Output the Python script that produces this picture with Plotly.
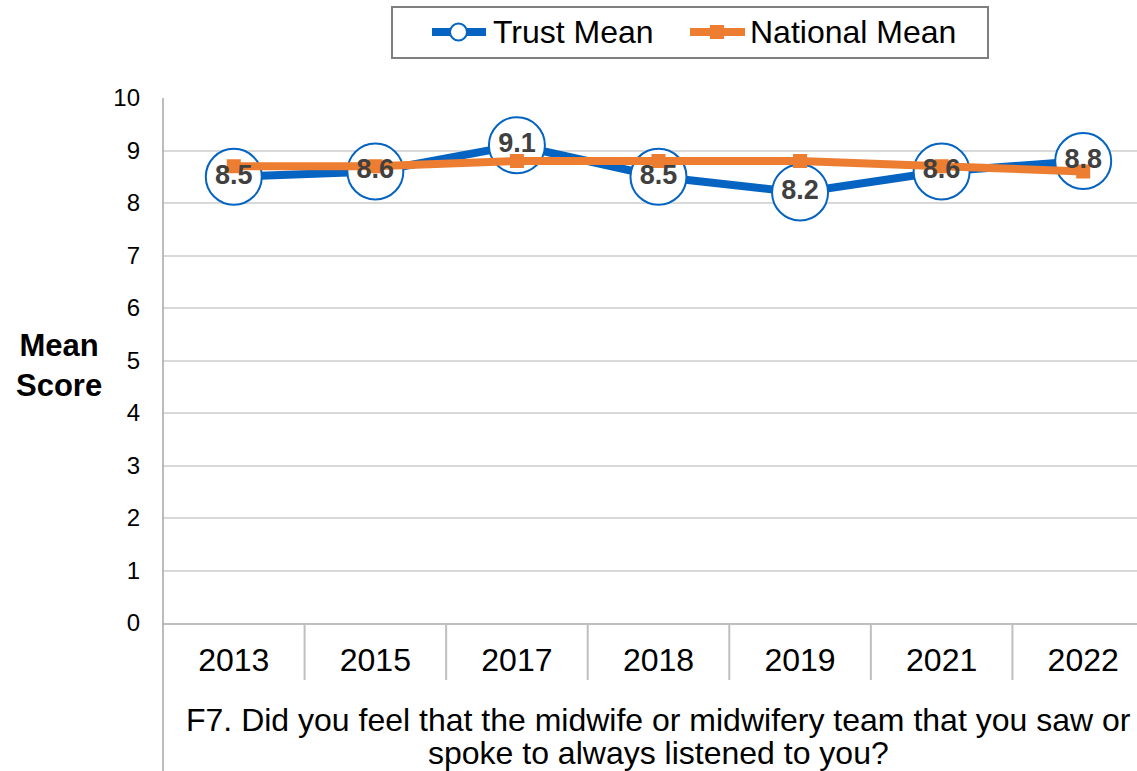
import plotly.graph_objects as go

years = ["2013", "2015", "2017", "2018", "2019", "2021", "2022"]
trust_mean = [8.5, 8.6, 9.1, 8.5, 8.2, 8.6, 8.8]
national_mean = [8.7, 8.7, 8.8, 8.8, 8.8, 8.7, 8.6]
y_ticks = list(range(0, 11))
series_names = ["Trust Mean", "National Mean"]
question_lines = [
    "F7. Did you feel that the midwife or midwifery team that you saw or",
    "spoke to always listened to you?",
]

FONT = "Liberation Sans, Arial, sans-serif"
BLUE = "#0563C1"
ORANGE = "#ED7D31"
GRID = "#D9D9D9"

W, H = 1137, 771
ML, MR, MT, MB = 163, 0, 98, 148
PW, PH = W - ML - MR, H - MT - MB


def px(x):
    return (x - ML) / PW


def py(y):
    return (H - MB - y) / PH


xi = list(range(len(years)))

fig = go.Figure()
fig.add_trace(go.Scatter(
    x=xi, y=trust_mean, name=series_names[0], mode="lines+markers",
    line=dict(color=BLUE, width=8),
    marker=dict(symbol="circle", size=56, color="white",
                line=dict(color=BLUE, width=2)),
    cliponaxis=False, showlegend=False,
))
fig.add_trace(go.Scatter(
    x=xi, y=national_mean, name=series_names[1], mode="lines+markers",
    line=dict(color=ORANGE, width=8),
    marker=dict(symbol="square", size=14, color=ORANGE),
    cliponaxis=False, showlegend=False,
))
fig.add_trace(go.Scatter(
    x=xi, y=trust_mean, mode="text", showlegend=False,
    text=[f"{v:.1f}" for v in trust_mean], textposition="middle center",
    textfont=dict(family=FONT, size=27, color="#404040", weight="bold"),
    cliponaxis=False, hoverinfo="skip",
))

shapes = []
# category separators below the plot area
for k in range(len(years) - 1):
    shapes.append(dict(type="line", xref="x", yref="paper",
                       x0=k + 0.5, x1=k + 0.5, y0=0, y1=py(680),
                       line=dict(color="#BFBFBF", width=2)))
# left axis line extended to the bottom
shapes.append(dict(type="line", xref="paper", yref="paper",
                   x0=0, x1=0, y0=1, y1=py(H + 5),
                   line=dict(color="#A6A6A6", width=1.5)))

# legend box
shapes.append(dict(type="rect", xref="paper", yref="paper",
                   x0=px(392), x1=px(988), y0=py(7), y1=py(58),
                   line=dict(color="#7F7F7F", width=2), fillcolor="white"))
LEG_Y = 32
# Trust Mean key
shapes.append(dict(type="line", xref="paper", yref="paper",
                   x0=px(432), x1=px(486), y0=py(LEG_Y), y1=py(LEG_Y),
                   line=dict(color=BLUE, width=8)))
shapes.append(dict(type="circle", xref="paper", yref="paper",
                   x0=px(450), x1=px(467), y0=py(LEG_Y - 8.5), y1=py(LEG_Y + 8.5),
                   line=dict(color=BLUE, width=2), fillcolor="white"))
# National Mean key
shapes.append(dict(type="line", xref="paper", yref="paper",
                   x0=px(690), x1=px(745), y0=py(LEG_Y), y1=py(LEG_Y),
                   line=dict(color=ORANGE, width=8)))
shapes.append(dict(type="rect", xref="paper", yref="paper",
                   x0=px(710), x1=px(724), y0=py(LEG_Y - 7), y1=py(LEG_Y + 7),
                   line=dict(color=ORANGE, width=0), fillcolor=ORANGE))

annotations = [
    dict(text="<b>Mean<br>Score</b>", xref="paper", yref="paper",
         x=px(59), y=py(365), xanchor="center", yanchor="middle",
         showarrow=False, align="center",
         font=dict(family=FONT, size=31, color="black")),
]
for name, tx in zip(series_names, [491, 748]):
    annotations.append(dict(
        text=name, xref="paper", yref="paper", x=px(tx), y=py(LEG_Y),
        xanchor="left", yanchor="middle", showarrow=False,
        font=dict(family=FONT, size=32, color="black")))
for line_text, ly in zip(question_lines, [720, 753]):
    annotations.append(dict(
        text=line_text, xref="paper", yref="paper", x=px(658), y=py(ly),
        xanchor="center", yanchor="middle", showarrow=False,
        font=dict(family=FONT, size=32, color="black")))

fig.update_layout(
    width=W, height=H,
    margin=dict(l=ML, r=MR, t=MT, b=MB),
    paper_bgcolor="white", plot_bgcolor="white",
    font=dict(family=FONT, color="black"),
    shapes=shapes,
    showlegend=False,
    xaxis=dict(
        range=[-0.5, 6.38], tickmode="array", tickvals=xi, ticktext=years,
        tickfont=dict(family=FONT, size=32, color="black"),
        showgrid=False, zeroline=False, showline=True,
        linecolor="#BFBFBF", linewidth=2, ticks="",
        ticklabelstandoff=8, fixedrange=True,
    ),
    yaxis=dict(
        range=[0, 10], tickmode="array", tickvals=y_ticks,
        tickfont=dict(family=FONT, size=24, color="black"),
        showgrid=True, gridcolor=GRID, gridwidth=1.5, zeroline=False,
        showline=False, ticks="", ticklabelstandoff=22,
    ),
    annotations=annotations,
)

fig.write_html("out.html")
